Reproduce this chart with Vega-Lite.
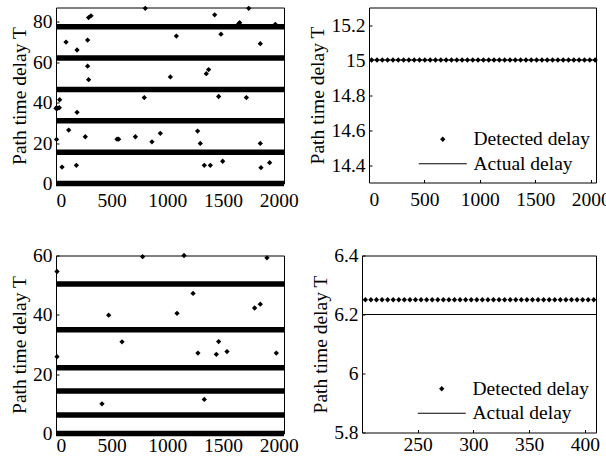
{
  "$schema": "https://vega.github.io/schema/vega-lite/v6.json",
  "padding": {"left": 9, "top": 4.5, "right": 0, "bottom": 0},
  "background": "white",
  "config": {
    "view": {"stroke": "black", "strokeWidth": 1},
    "font": "Liberation Serif",
    "axis": {
      "labelFont": "Liberation Serif", "labelFontSize": 19.5, "labelColor": "black",
      "titleFont": "Liberation Serif", "titleFontSize": 19.5, "titleFontWeight": "normal", "titleColor": "black",
      "grid": false, "domain": false, "ticks": true, "tickSize": -3, "tickColor": "black",
      "labelPadding": 7, "titlePadding": 3
    },
    "legend": {
      "labelFont": "Liberation Serif", "labelFontSize": 19.5, "labelColor": "black", "padding": 0
    }
  },
  "resolve": {"scale": {"shape": "independent"}, "legend": {"shape": "independent"}},
  "datasets": {
    "tl_bands": [
      {"x": 0, "x2": 2048, "y": 0}, {"x": 0, "x2": 2048, "y": 15.5}, {"x": 0, "x2": 2048, "y": 31},
      {"x": 0, "x2": 2048, "y": 46.5}, {"x": 0, "x2": 2048, "y": 62}, {"x": 0, "x2": 2048, "y": 77.5}
    ],
    "tl_points": [
      {"x": 0, "y": 37.2}, {"x": 15, "y": 37.2}, {"x": 30, "y": 37.5}, {"x": 33, "y": 41.4}, {"x": 5, "y": 21.8},
      {"x": 54, "y": 8.1}, {"x": 90, "y": 69.9}, {"x": 114, "y": 26.4}, {"x": 183, "y": 9}, {"x": 189, "y": 66},
      {"x": 189, "y": 35.2}, {"x": 263, "y": 23.1}, {"x": 284, "y": 70.9}, {"x": 284, "y": 58}, {"x": 293, "y": 51.3},
      {"x": 293, "y": 82}, {"x": 314, "y": 82.9}, {"x": 548, "y": 21.9}, {"x": 563, "y": 21.9}, {"x": 713, "y": 23.1},
      {"x": 802, "y": 86.6}, {"x": 793, "y": 42.5}, {"x": 862, "y": 20.6}, {"x": 937, "y": 24.8}, {"x": 1027, "y": 52.7},
      {"x": 1081, "y": 72.9}, {"x": 1272, "y": 25.9}, {"x": 1296, "y": 19.8}, {"x": 1332, "y": 9}, {"x": 1350, "y": 54.3},
      {"x": 1371, "y": 56.3}, {"x": 1386, "y": 9}, {"x": 1425, "y": 83.4}, {"x": 1461, "y": 43}, {"x": 1482, "y": 73.8},
      {"x": 1497, "y": 11}, {"x": 1641, "y": 79}, {"x": 1650, "y": 79.5}, {"x": 1710, "y": 42.5}, {"x": 1731, "y": 86.6},
      {"x": 1835, "y": 69.1}, {"x": 1835, "y": 19.8}, {"x": 1841, "y": 7.8}, {"x": 1919, "y": 10.3}, {"x": 1970, "y": 78.7}
    ],
    "bl_bands": [
      {"x": 0, "x2": 2048, "y": 0}, {"x": 0, "x2": 2048, "y": 6.25}, {"x": 0, "x2": 2048, "y": 14.3},
      {"x": 0, "x2": 2048, "y": 22.2}, {"x": 0, "x2": 2048, "y": 35}, {"x": 0, "x2": 2048, "y": 50.4}
    ],
    "bl_points": [
      {"x": 9, "y": 54.6}, {"x": 9, "y": 25.9}, {"x": 413, "y": 10}, {"x": 473, "y": 39.9}, {"x": 593, "y": 30.9},
      {"x": 778, "y": 59.6}, {"x": 1087, "y": 40.5}, {"x": 1150, "y": 60}, {"x": 1231, "y": 47.2}, {"x": 1275, "y": 27.1},
      {"x": 1332, "y": 11.5}, {"x": 1440, "y": 26.7}, {"x": 1461, "y": 31}, {"x": 1536, "y": 27.6}, {"x": 1784, "y": 42.3},
      {"x": 1835, "y": 43.6}, {"x": 1895, "y": 59.2}, {"x": 1979, "y": 27.1}
    ],
    "tr_detected": [
      {"x": 24, "y": 15, "series": "Detected delay"}, {"x": 72, "y": 15, "series": "Detected delay"}, {"x": 120, "y": 15, "series": "Detected delay"},
      {"x": 168, "y": 15, "series": "Detected delay"}, {"x": 216, "y": 15, "series": "Detected delay"}, {"x": 264, "y": 15, "series": "Detected delay"},
      {"x": 312, "y": 15, "series": "Detected delay"}, {"x": 360, "y": 15, "series": "Detected delay"}, {"x": 408, "y": 15, "series": "Detected delay"},
      {"x": 456, "y": 15, "series": "Detected delay"}, {"x": 504, "y": 15, "series": "Detected delay"}, {"x": 552, "y": 15, "series": "Detected delay"},
      {"x": 600, "y": 15, "series": "Detected delay"}, {"x": 648, "y": 15, "series": "Detected delay"}, {"x": 696, "y": 15, "series": "Detected delay"},
      {"x": 744, "y": 15, "series": "Detected delay"}, {"x": 792, "y": 15, "series": "Detected delay"}, {"x": 840, "y": 15, "series": "Detected delay"},
      {"x": 888, "y": 15, "series": "Detected delay"}, {"x": 936, "y": 15, "series": "Detected delay"}, {"x": 984, "y": 15, "series": "Detected delay"},
      {"x": 1032, "y": 15, "series": "Detected delay"}, {"x": 1080, "y": 15, "series": "Detected delay"}, {"x": 1128, "y": 15, "series": "Detected delay"},
      {"x": 1176, "y": 15, "series": "Detected delay"}, {"x": 1224, "y": 15, "series": "Detected delay"}, {"x": 1272, "y": 15, "series": "Detected delay"},
      {"x": 1320, "y": 15, "series": "Detected delay"}, {"x": 1368, "y": 15, "series": "Detected delay"}, {"x": 1416, "y": 15, "series": "Detected delay"},
      {"x": 1464, "y": 15, "series": "Detected delay"}, {"x": 1512, "y": 15, "series": "Detected delay"}, {"x": 1560, "y": 15, "series": "Detected delay"},
      {"x": 1608, "y": 15, "series": "Detected delay"}, {"x": 1656, "y": 15, "series": "Detected delay"}, {"x": 1704, "y": 15, "series": "Detected delay"},
      {"x": 1752, "y": 15, "series": "Detected delay"}, {"x": 1800, "y": 15, "series": "Detected delay"}, {"x": 1848, "y": 15, "series": "Detected delay"},
      {"x": 1896, "y": 15, "series": "Detected delay"}, {"x": 1944, "y": 15, "series": "Detected delay"}, {"x": 1992, "y": 15, "series": "Detected delay"},
      {"x": 2040, "y": 15, "series": "Detected delay"}
    ],
    "tr_actual": [{"x": 0, "y": 15}, {"x": 2048, "y": 15}],
    "br_detected": [
      {"x": 203, "y": 6.25, "series": "Detected delay"}, {"x": 208, "y": 6.25, "series": "Detected delay"}, {"x": 213, "y": 6.25, "series": "Detected delay"},
      {"x": 218, "y": 6.25, "series": "Detected delay"}, {"x": 223, "y": 6.25, "series": "Detected delay"}, {"x": 228, "y": 6.25, "series": "Detected delay"},
      {"x": 233, "y": 6.25, "series": "Detected delay"}, {"x": 238, "y": 6.25, "series": "Detected delay"}, {"x": 243, "y": 6.25, "series": "Detected delay"},
      {"x": 248, "y": 6.25, "series": "Detected delay"}, {"x": 253, "y": 6.25, "series": "Detected delay"}, {"x": 258, "y": 6.25, "series": "Detected delay"},
      {"x": 263, "y": 6.25, "series": "Detected delay"}, {"x": 268, "y": 6.25, "series": "Detected delay"}, {"x": 273, "y": 6.25, "series": "Detected delay"},
      {"x": 278, "y": 6.25, "series": "Detected delay"}, {"x": 283, "y": 6.25, "series": "Detected delay"}, {"x": 288, "y": 6.25, "series": "Detected delay"},
      {"x": 293, "y": 6.25, "series": "Detected delay"}, {"x": 298, "y": 6.25, "series": "Detected delay"}, {"x": 303, "y": 6.25, "series": "Detected delay"},
      {"x": 308, "y": 6.25, "series": "Detected delay"}, {"x": 313, "y": 6.25, "series": "Detected delay"}, {"x": 318, "y": 6.25, "series": "Detected delay"},
      {"x": 323, "y": 6.25, "series": "Detected delay"}, {"x": 328, "y": 6.25, "series": "Detected delay"}, {"x": 333, "y": 6.25, "series": "Detected delay"},
      {"x": 338, "y": 6.25, "series": "Detected delay"}, {"x": 343, "y": 6.25, "series": "Detected delay"}, {"x": 348, "y": 6.25, "series": "Detected delay"},
      {"x": 353, "y": 6.25, "series": "Detected delay"}, {"x": 358, "y": 6.25, "series": "Detected delay"}, {"x": 363, "y": 6.25, "series": "Detected delay"},
      {"x": 368, "y": 6.25, "series": "Detected delay"}, {"x": 373, "y": 6.25, "series": "Detected delay"}, {"x": 378, "y": 6.25, "series": "Detected delay"},
      {"x": 383, "y": 6.25, "series": "Detected delay"}, {"x": 388, "y": 6.25, "series": "Detected delay"}, {"x": 393, "y": 6.25, "series": "Detected delay"},
      {"x": 398, "y": 6.25, "series": "Detected delay"}, {"x": 403, "y": 6.25, "series": "Detected delay"}, {"x": 408, "y": 6.25, "series": "Detected delay"}
    ],
    "br_actual": [{"x": 200, "y": 6.2}, {"x": 410, "y": 6.2}]
  },
  "spacing": 34,
  "vconcat": [
    {
      "spacing": 85,
      "bounds": "flush",
      "resolve": {"scale": {"shape": "independent"}, "legend": {"shape": "independent"}},
      "hconcat": [
        {
          "width": 228, "height": 176,
          "layer": [
            {
              "data": {"name": "tl_bands"},
              "mark": {"type": "rule", "color": "black", "strokeWidth": 5.5},
              "encoding": {
                "x": {"field": "x", "type": "quantitative", "scale": {"domain": [0, 2048], "nice": false},
                      "axis": {"values": [0, 500, 1000, 1500, 2000], "format": "d", "title": null, "labelPadding": 11}},
                "x2": {"field": "x2"},
                "y": {"field": "y", "type": "quantitative", "scale": {"domain": [0, 87], "nice": false},
                      "axis": {"values": [0, 20, 40, 60, 80], "format": "d", "title": "Path time delay T"}}
              }
            },
            {
              "data": {"name": "tl_points"},
              "mark": {"type": "point", "shape": "diamond", "filled": true, "color": "black", "size": 28, "opacity": 1},
              "encoding": {
                "x": {"field": "x", "type": "quantitative"},
                "y": {"field": "y", "type": "quantitative"}
              }
            }
          ]
        },
        {
          "width": 227, "height": 175,
          "layer": [
            {
              "data": {"name": "tr_actual"},
              "mark": {"type": "line", "color": "black", "strokeWidth": 1},
              "encoding": {
                "x": {"field": "x", "type": "quantitative", "scale": {"domain": [0, 2048], "nice": false},
                      "axis": {"values": [0, 500, 1000, 1500, 2000], "format": "d", "title": null, "labelPadding": 11}},
                "y": {"field": "y", "type": "quantitative", "scale": {"domain": [14.3, 15.3], "nice": false, "zero": false},
                      "axis": {"values": [14.4, 14.6, 14.8, 15, 15.2], "format": "~g", "title": "Path time delay T"}}
              }
            },
            {
              "data": {"name": "tr_detected"},
              "mark": {"type": "point", "filled": true, "color": "black", "size": 28, "opacity": 1},
              "encoding": {
                "x": {"field": "x", "type": "quantitative"},
                "y": {"field": "y", "type": "quantitative"},
                "shape": {"field": "series", "type": "nominal",
                  "scale": {"domain": ["Detected delay", "Actual delay"], "range": ["diamond", "M-9.07,-0.19L9.07,-0.19L9.07,0.19L-9.07,0.19Z"]},
                  "legend": {"title": null, "orient": "none", "legendX": 64, "legendY": 122, "labelOffset": 21, "rowPadding": 3.5,
                    "symbolSize": 28,
                    "encode": {"symbols": {"update": {"fill": {"value": "black"}, "stroke": {"value": "black"}, "strokeWidth": {"value": 0}, "opacity": {"value": 1}}}}}}
              }
            }
          ]
        }
      ]
    },
    {
      "spacing": 78,
      "bounds": "flush",
      "resolve": {"scale": {"shape": "independent"}, "legend": {"shape": "independent"}},
      "hconcat": [
        {
          "width": 228, "height": 178,
          "layer": [
            {
              "data": {"name": "bl_bands"},
              "mark": {"type": "rule", "color": "black", "strokeWidth": 5.5},
              "encoding": {
                "x": {"field": "x", "type": "quantitative", "scale": {"domain": [0, 2048], "nice": false},
                      "axis": {"values": [0, 500, 1000, 1500, 2000], "format": "d", "title": null, "labelPadding": 6}},
                "x2": {"field": "x2"},
                "y": {"field": "y", "type": "quantitative", "scale": {"domain": [0, 60], "nice": false},
                      "axis": {"values": [0, 20, 40, 60], "format": "d", "title": "Path time delay T"}}
              }
            },
            {
              "data": {"name": "bl_points"},
              "mark": {"type": "point", "shape": "diamond", "filled": true, "color": "black", "size": 28, "opacity": 1},
              "encoding": {
                "x": {"field": "x", "type": "quantitative"},
                "y": {"field": "y", "type": "quantitative"}
              }
            }
          ]
        },
        {
          "width": 234, "height": 177,
          "layer": [
            {
              "data": {"name": "br_actual"},
              "mark": {"type": "line", "color": "black", "strokeWidth": 1},
              "encoding": {
                "x": {"field": "x", "type": "quantitative", "scale": {"domain": [200, 410], "nice": false, "zero": false},
                      "axis": {"values": [250, 300, 350, 400], "format": "d", "title": null, "labelPadding": 6}},
                "y": {"field": "y", "type": "quantitative", "scale": {"domain": [5.8, 6.4], "nice": false, "zero": false},
                      "axis": {"values": [5.8, 6, 6.2, 6.4], "format": "~g", "title": "Path time delay T"}}
              }
            },
            {
              "data": {"name": "br_detected"},
              "mark": {"type": "point", "filled": true, "color": "black", "size": 28, "opacity": 1},
              "encoding": {
                "x": {"field": "x", "type": "quantitative"},
                "y": {"field": "y", "type": "quantitative"},
                "shape": {"field": "series", "type": "nominal",
                  "scale": {"domain": ["Detected delay", "Actual delay"], "range": ["diamond", "M-9.07,-0.19L9.07,-0.19L9.07,0.19L-9.07,0.19Z"]},
                  "legend": {"title": null, "orient": "none", "legendX": 70, "legendY": 123.5, "labelOffset": 21, "rowPadding": 3.5,
                    "symbolSize": 28,
                    "encode": {"symbols": {"update": {"fill": {"value": "black"}, "stroke": {"value": "black"}, "strokeWidth": {"value": 0}, "opacity": {"value": 1}}}}}}
              }
            }
          ]
        }
      ]
    }
  ]
}
